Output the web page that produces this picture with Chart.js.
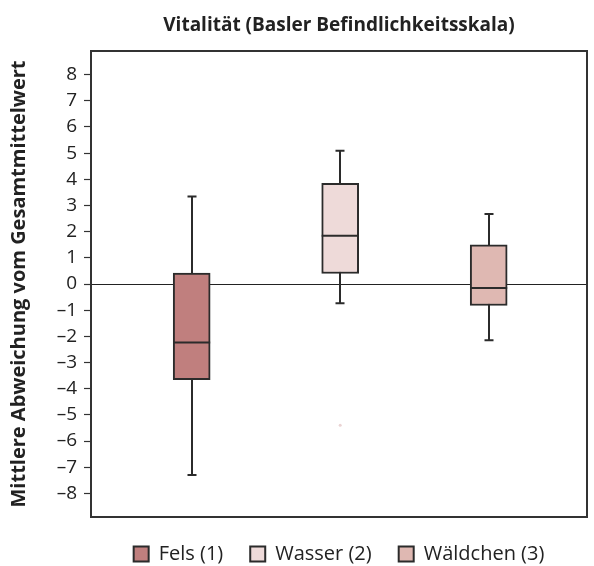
<!DOCTYPE html>
<html>
<head>
<meta charset="utf-8">
<script src="https://cdn.jsdelivr.net/npm/chart.js@4/dist/chart.umd.min.js"></script>
<style>
  html, body { margin: 0; padding: 0; background: #fff; }
  #wrap { width: 594px; height: 566px; }
</style>
</head>
<body>
<div id="wrap"><canvas id="c" width="594" height="566"></canvas></div>
<script>
const categories = ['Fels (1)', 'Wasser (2)', 'Wäldchen (3)'];
const positions = [1, 2, 3];
const whiskerMin = [-7.3, -0.74, -2.15];
const q1 = [-3.65, 0.40, -0.82];
const median = [-2.23, 1.84, -0.15];
const q3 = [0.42, 3.85, 1.50];
const whiskerMax = [3.34, 5.09, 2.67];
const outlierPos = [2];
const outlierVal = [-5.4];
const yTicks = [-8, -7, -6, -5, -4, -3, -2, -1, 0, 1, 2, 3, 4, 5, 6, 7, 8];

const fillColors = ['#c07f7e', '#eedad9', '#dfb8b2'];
const lineColor = '#2b2b2b';
const FONT = "'Open Sans', 'DejaVu Sans', sans-serif";

const datasets = categories.map((cat, i) => ({
  type: 'bar',
  label: cat,
  data: [{ x: positions[i], y: [q1[i], q3[i]] }],
  backgroundColor: fillColors[i],
  borderColor: lineColor,
  borderWidth: 2,
  borderSkipped: false,
  barThickness: 37,
  grouped: false,
  order: 1
}));
datasets.push({
  type: 'scatter',
  label: 'outlier',
  data: outlierPos.map((p, i) => ({ x: p, y: outlierVal[i] })),
  backgroundColor: '#ead3d3',
  borderWidth: 0,
  pointRadius: 1.5,
  order: 0
});

const boxPlugin = {
  id: 'boxParts',
  beforeDatasetsDraw(chart) {
    const { ctx, chartArea: a } = chart;
    const xs = chart.scales.x, ys = chart.scales.y;
    ctx.save();
    // zero line
    ctx.strokeStyle = '#222';
    ctx.lineWidth = 1;
    const y0 = Math.round(ys.getPixelForValue(0)) + 0.5;
    ctx.beginPath(); ctx.moveTo(a.left, y0); ctx.lineTo(a.right, y0); ctx.stroke();
    // whiskers
    ctx.strokeStyle = lineColor;
    ctx.lineWidth = 2;
    positions.forEach((p, i) => {
      const x = Math.round(xs.getPixelForValue(p));
      const yT = ys.getPixelForValue(whiskerMax[i]);
      const yB = ys.getPixelForValue(whiskerMin[i]);
      ctx.beginPath();
      ctx.moveTo(x, yT); ctx.lineTo(x, yB);
      ctx.moveTo(x - 4.5, yT); ctx.lineTo(x + 4.5, yT);
      ctx.moveTo(x - 4.5, yB); ctx.lineTo(x + 4.5, yB);
      ctx.stroke();
    });
    ctx.restore();
  },
  afterDatasetsDraw(chart) {
    const { ctx, chartArea: a } = chart;
    const xs = chart.scales.x, ys = chart.scales.y;
    ctx.save();
    ctx.strokeStyle = lineColor;
    ctx.lineWidth = 2;
    positions.forEach((p, i) => {
      const x = xs.getPixelForValue(p);
      const y = ys.getPixelForValue(median[i]);
      ctx.beginPath(); ctx.moveTo(x - 18.5, y); ctx.lineTo(x + 18.5, y); ctx.stroke();
    });
    // frame
    ctx.lineWidth = 2;
    ctx.strokeStyle = '#333';
    ctx.strokeRect(a.left, a.top, a.right - a.left, a.bottom - a.top);
    ctx.restore();
  }
};

new Chart(document.getElementById('c'), {
  data: { datasets },
  options: {
    responsive: false,
    animation: false,
    layout: { padding: { top: 0, right: 7, bottom: 0, left: 0 } },
    plugins: {
      title: {
        display: true,
        text: 'Vitalität (Basler Befindlichkeitsskala)',
        fullSize: false,
        color: '#222',
        font: { family: FONT, size: 19, weight: 'bold' },
        padding: { top: 14, bottom: 14.2 }
      },
      legend: {
        position: 'bottom',
        fullSize: false,
        maxHeight: 49,
        labels: {
          color: '#222',
          font: { family: FONT, size: 20 },
          boxWidth: 15,
          boxHeight: 15,
          padding: 27,
          filter: (item) => item.text !== 'outlier'
        }
      },
      tooltip: { enabled: false }
    },
    scales: {
      x: {
        type: 'linear',
        display: false,
        offset: false,
        min: 0.322,
        max: 3.662
      },
      y: {
        type: 'linear',
        min: -8.9,
        max: 8.9,
        afterBuildTicks: (s) => { s.ticks = yTicks.map(v => ({ value: v })); },
        afterFit: (s) => { s.width = 91; },
        border: { display: false },
        grid: {
          drawOnChartArea: false,
          drawTicks: true,
          tickLength: 7,
          tickColor: '#333',
          tickWidth: 1.2
        },
        ticks: {
          color: '#222',
          font: { family: FONT, size: 19 },
          padding: 7,
          callback: (v) => v < 0 ? '\u2013' + Math.abs(v) : String(v)
        },
        title: {
          display: true,
          text: 'Mittlere Abweichung vom Gesamtmittelwert',
          color: '#222',
          font: { family: FONT, size: 20, weight: 'bold' },
          padding: { top: 7, bottom: 0 }
        }
      }
    }
  },
  plugins: [boxPlugin]
});
</script>
</body>
</html>
